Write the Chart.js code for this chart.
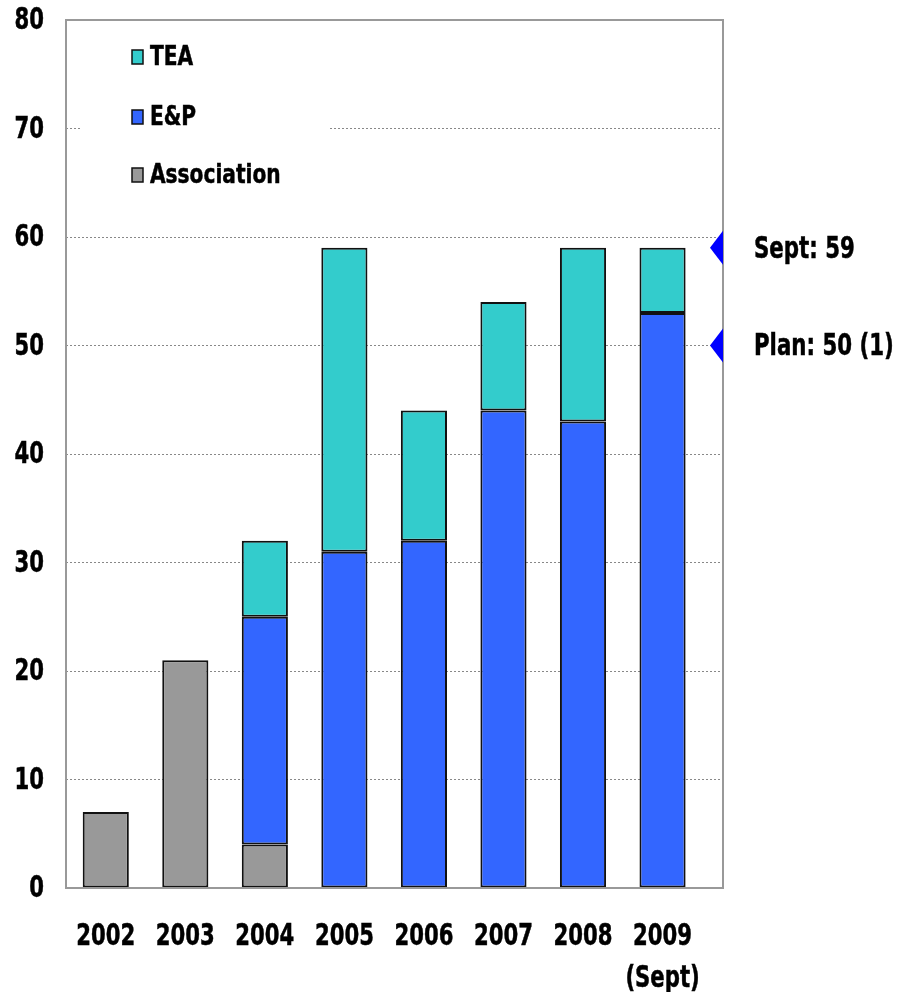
<!DOCTYPE html>
<html>
<head>
<meta charset="utf-8">
<script src="https://cdn.jsdelivr.net/npm/chart.js@4.4.1/dist/chart.umd.min.js"></script>
<style>
  html, body { margin: 0; padding: 0; background: #fff; }
  canvas { display: block; }
</style>
</head>
<body>
<canvas id="myChart" width="902" height="992"></canvas>
<script>
// chart data (null = no segment that year)
var years = [['2002'], ['2003'], ['2004'], ['2005'], ['2006'], ['2007'], ['2008'], ['2009', '(Sept)']];
var association = [7, 21, 4, null, null, null, null, null];
var eandp = [null, null, 21, 31, 32, 44, 43, 53];
var tea = [null, null, 7, 28, 12, 10, 16, 6];
var yTicks = [0, 10, 20, 30, 40, 50, 60, 70, 80];
var markValues = [59, 50];
var markLabels = ['Sept: 59', 'Plan: 50 (1)'];
var legendNames = ['TEA', 'E&P', 'Association'];
var legendColors = ['#33CCCC', '#3366FF', '#999999'];

var FONT = "'DejaVu Sans Condensed', 'DejaVu Sans', sans-serif";

// the original uses a tall narrow heavy face, so squeeze the text sideways
function narrowText(ctx, text, x, y, size, sx, align) {
  ctx.save();
  ctx.font = 'bold ' + size + 'px ' + FONT;
  ctx.textAlign = align;
  ctx.textBaseline = 'middle';
  ctx.fillStyle = '#000';
  ctx.strokeStyle = '#000';
  ctx.lineWidth = 0.5;
  ctx.translate(x, y);
  ctx.scale(sx, 1);
  ctx.fillText(text, 0, 0);
  ctx.strokeText(text, 0, 0);
  ctx.restore();
}

var extras = {
  id: 'extras',
  afterDatasetsDraw: function(chart) {
    var ctx = chart.ctx;
    var area = chart.chartArea;
    var x = chart.scales.x;
    var y = chart.scales.y;
    ctx.save();
    // legend block hides the grid behind it
    ctx.fillStyle = '#fff';
    ctx.fillRect(area.left + 14, area.top + 4, 248, 190);
    var rows = [57, 117, 175];
    for (var i = 0; i < legendNames.length; i++) {
      ctx.fillStyle = legendColors[i];
      ctx.fillRect(132, rows[i] - 7, 11, 14);
      ctx.strokeStyle = '#111';
      ctx.lineWidth = 1.5;
      ctx.strokeRect(132, rows[i] - 7, 11, 14);
      narrowText(ctx, legendNames[i], 150, rows[i] + 1, 27, 0.83, 'left');
    }
    // frame
    ctx.strokeStyle = '#999';
    ctx.lineWidth = 2;
    ctx.strokeRect(area.left, area.top, area.right - area.left, area.bottom - area.top);
    // side marks
    for (var k = 0; k < markValues.length; k++) {
      var py = y.getPixelForValue(markValues[k]);
      ctx.fillStyle = '#0000FF';
      ctx.beginPath();
      ctx.moveTo(area.right - 13, py);
      ctx.lineTo(area.right, py - 17);
      ctx.lineTo(area.right, py + 17);
      ctx.closePath();
      ctx.fill();
      narrowText(ctx, markLabels[k], area.right + 31, py + 2, 30, 0.79, 'left');
    }
    // y tick labels
    y.ticks.forEach(function(t, j) {
      narrowText(ctx, String(t.value), area.left - 22, y.getPixelForTick(j) + 1, 31, 0.76, 'right');
    });
    // x tick labels
    x.ticks.forEach(function(t, j) {
      var lines = years[t.value];
      var px = x.getPixelForTick(j);
      for (var m = 0; m < lines.length; m++) {
        narrowText(ctx, lines[m], px, area.bottom + 49 + m * 42, 31, 0.76, 'center');
      }
    });
    ctx.restore();
  }
};

var ctx = document.getElementById('myChart').getContext('2d');
var myChart = new Chart(ctx, {
  type: 'bar',
  data: {
    labels: years,
    datasets: [
      { label: 'Association', data: association, backgroundColor: '#999999' },
      { label: 'E&P', data: eandp, backgroundColor: '#3366FF' },
      { label: 'TEA', data: tea, backgroundColor: '#33CCCC' }
    ]
  },
  options: {
    responsive: false,
    animation: false,
    datasets: {
      bar: {
        borderColor: '#111',
        borderWidth: 2,
        borderSkipped: false,
        barPercentage: 0.58,
        categoryPercentage: 1
      }
    },
    layout: { padding: { left: 0, top: 20, right: 179, bottom: 0 } },
    plugins: {
      legend: { display: false },
      tooltip: { enabled: false }
    },
    scales: {
      x: {
        stacked: true,
        grid: { display: false, drawTicks: false },
        border: { display: false },
        ticks: { display: false, autoSkip: false },
        // the original leaves an empty strip on the right of the last bar
        afterBuildTicks: function(s) { s._valueRange = 8.26; },
        afterFit: function(s) { s.height = 104; s.paddingLeft = 0; s.paddingRight = 0; }
      },
      y: {
        stacked: true,
        min: 0,
        max: 80,
        afterBuildTicks: function(s) {
          s.ticks = yTicks.map(function(v) { return { value: v }; });
        },
        grid: { color: '#888', lineWidth: 1, drawTicks: false },
        border: { display: false, dash: [2, 2] },
        ticks: { display: false },
        afterFit: function(s) { s.width = 66; s.paddingTop = 0; s.paddingBottom = 0; }
      }
    }
  },
  plugins: [extras]
});
</script>
</body>
</html>
